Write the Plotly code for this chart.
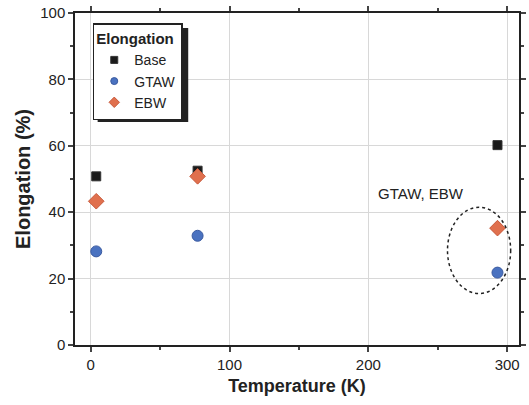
import plotly.graph_objects as go

temps = [4, 77, 293]
base = [50.8, 52.5, 60.2]
gtaw = [28.2, 32.9, 21.8]
ebw = [43.3, 50.8, 35.2]

series_names = ["Base", "GTAW", "EBW"]
x_ticks = [0, 100, 200, 300]
y_ticks = [0, 20, 40, 60, 80, 100]

font_family = "Liberation Sans, Arial, sans-serif"

styles = {
    "Base": dict(symbol="square", color="#1a1a1a", line="#333333", size=9, lsize=7),
    "GTAW": dict(symbol="circle", color="#4a72c0", line="#3a5aa0", size=11, lsize=7),
    "EBW": dict(symbol="diamond", color="#e0704e", line="#c85a3c", size=12, lsize=8),
}

fig = go.Figure()
for name, vals in zip(series_names, [base, gtaw, ebw]):
    s = styles[name]
    fig.add_trace(go.Scatter(x=temps, y=vals, mode="markers", name=name, showlegend=False,
                             legendgroup=name,
                             marker=dict(symbol=s["symbol"], size=s["size"], color=s["color"],
                                         line=dict(width=1, color=s["line"]))))
    # legend-only entry with smaller glyph
    fig.add_trace(go.Scatter(x=[None], y=[None], mode="markers", name=name, legendgroup=name,
                             marker=dict(symbol=s["symbol"], size=s["lsize"], color=s["color"],
                                         line=dict(width=1, color=s["line"]))))

# dotted ellipse around room-temperature weld points
fig.add_shape(type="circle", xref="x", yref="y", x0=257, x1=302.5, y0=15.5, y1=41.5,
              line=dict(color="#222222", width=1.5, dash="dot"))
fig.add_annotation(x=238, y=45.5, xref="x", yref="y", text="GTAW, EBW", showarrow=False,
                   font=dict(family=font_family, size=15, color="#222222"))

# legend shadow
fig.add_shape(type="rect", xref="paper", yref="paper", x0=0.051, x1=0.255, y0=0.672, y1=0.955,
              fillcolor="#222222", line=dict(width=0), layer="above")

fig.update_layout(
    width=529, height=405,
    margin=dict(l=75, r=3, t=13, b=60),
    paper_bgcolor="white", plot_bgcolor="white",
    font=dict(family=font_family, size=15, color="#222222"),
    showlegend=True,
    legend=dict(x=0.040, y=0.969, xanchor="left", yanchor="top",
                bgcolor="white", bordercolor="#222222", borderwidth=1.5,
                title=dict(text="<b>Elongation</b>", font=dict(size=15)),
                font=dict(size=14), itemsizing="trace", tracegroupgap=0),
    xaxis=dict(range=[-11.3, 308.5], tickvals=x_ticks, ticks="outside", ticklen=5,
               tickwidth=1.5, showline=True, linecolor="#222222", linewidth=1.5,
               mirror="ticks", showgrid=True, gridcolor="#d8d8d8", gridwidth=1,
               zeroline=False, tickfont=dict(size=15),
               minor=dict(dtick=50, ticks="outside", ticklen=3, tickwidth=1.5, showgrid=False),
               title=dict(text="<b>Temperature (K)</b>", font=dict(size=18), standoff=8)),
    yaxis=dict(range=[0, 100], tickvals=y_ticks, ticks="outside", ticklen=5,
               tickwidth=1.5, showline=True, linecolor="#222222", linewidth=1.5,
               mirror="ticks", showgrid=True, gridcolor="#d8d8d8", gridwidth=1,
               zeroline=False, tickfont=dict(size=15),
               minor=dict(dtick=10, ticks="outside", ticklen=3, tickwidth=1.5, showgrid=False),
               title=dict(text="<b>Elongation (%)</b>", font=dict(size=20), standoff=4)),
)

fig.write_html("out.html")
